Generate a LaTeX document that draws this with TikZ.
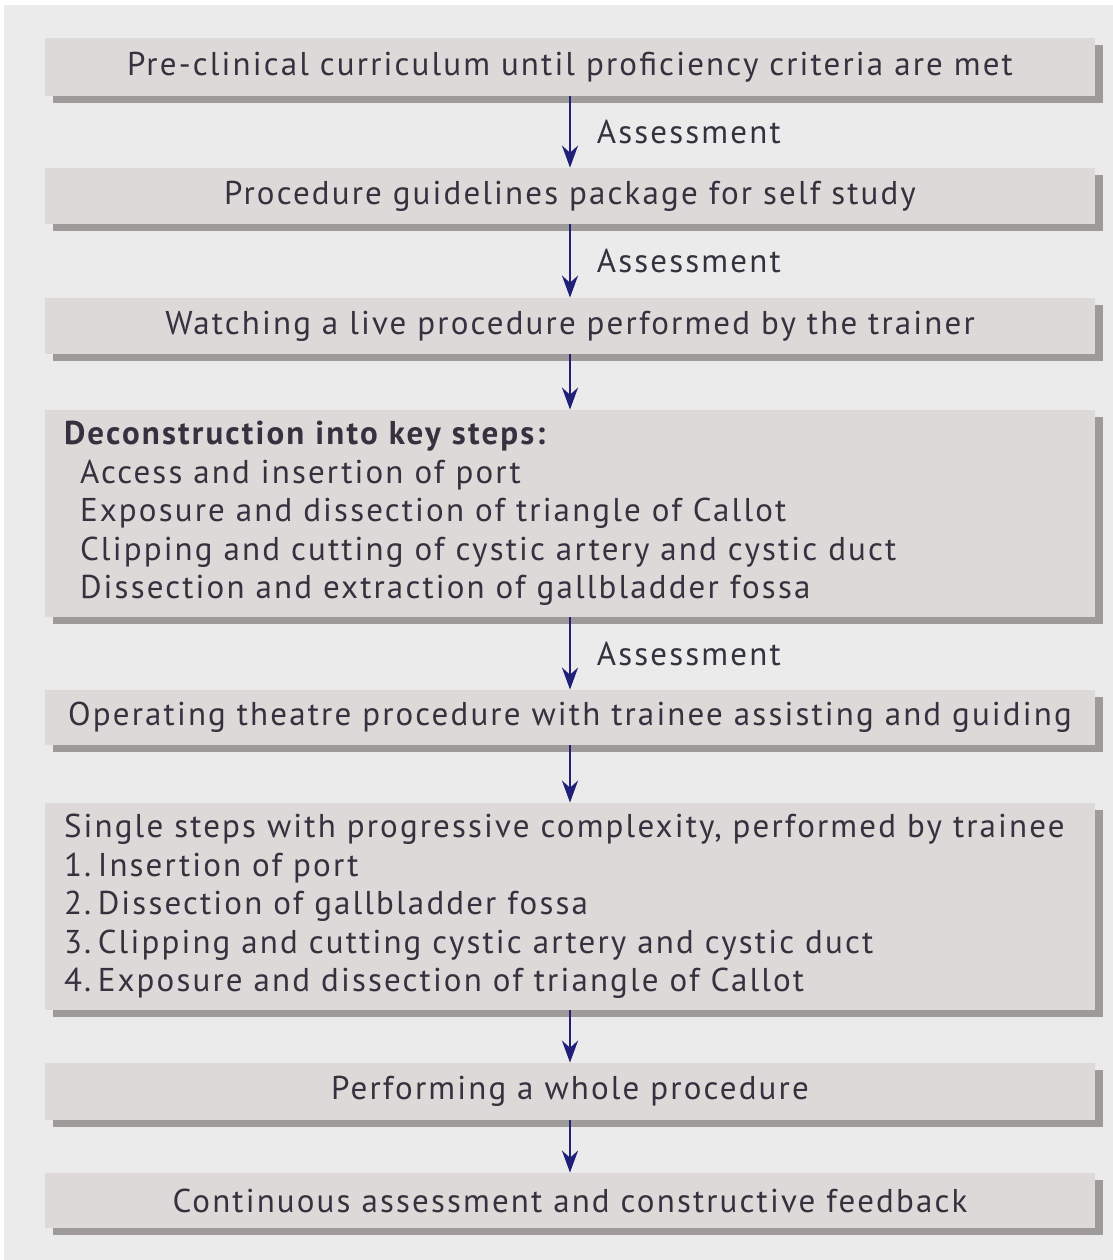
\documentclass[tikz,border=0pt]{standalone}
\usepackage{fontspec}
\setmainfont[LetterSpace=6.5]{PT Sans}
\usetikzlibrary{shadows,arrows.meta}
\definecolor{BoxGray}{RGB}{220,217,216}
\definecolor{ShadowGray}{RGB}{158,154,153}
\definecolor{PageGray}{RGB}{235,235,235}
\definecolor{ArrowNavy}{RGB}{32,32,122}
\definecolor{TextGray}{RGB}{52,50,62}

\begin{document}
\begin{tikzpicture}[x=0.5pt, y=-0.5pt,
		stepbox/.style={fill=BoxGray, minimum width=525pt, inner sep=0pt, text=TextGray,
			font=\fontsize{16.5}{19.25}\selectfont,
			drop shadow={shadow xshift=4pt, shadow yshift=-3.5pt, fill=ShadowGray, opacity=1}},
		listbox/.style={stepbox, text width=506pt, inner xsep=9.5pt, align=left},
		flow/.style={-{Stealth[length=11pt, width=8pt]}, ArrowNavy, line width=1.3pt},
		asmt/.style={anchor=west, xshift=9.5pt, text=TextGray, font=\fontsize{16.5}{18}\selectfont}
		]
		% ===== nen xam =====
		\useasboundingbox (0,0) rectangle (1113,1260);
		\fill[PageGray] (4,5) rectangle (1113,1260);
		
		% ===== cac o =====
		\node[stepbox, minimum height=29pt] (b1) at (570,67) {Pre-clinical curriculum until proficiency criteria are met};
		\node[stepbox, minimum height=28pt] (b2) at (570,196) {Procedure guidelines package for self study};
		\node[stepbox, minimum height=28pt] (b3) at (570,326) {Watching a live procedure performed by the trainer};
		\node[listbox, minimum height=103.5pt] (b4) at (570,513.5) {\textbf{Deconstruction into key steps:}\\
			\hspace*{8pt}Access and insertion of port\\
			\hspace*{8pt}Exposure and dissection of triangle of Callot\\
			\hspace*{8pt}Clipping and cutting of cystic artery and cystic duct\\
			\hspace*{8pt}Dissection and extraction of gallbladder fossa};
		\node[stepbox, minimum height=27.5pt] (b5) at (570,717.5) {Operating theatre procedure with trainee assisting and guiding};
		\node[listbox, minimum height=103.5pt] (b6) at (570,906.5) {Single steps with progressive complexity, performed by trainee\\
			1.\hspace{0.2em}Insertion of port\\
			2.\hspace{0.2em}Dissection of gallbladder fossa\\
			3.\hspace{0.2em}Clipping and cutting cystic artery and cystic duct\\
			4.\hspace{0.2em}Exposure and dissection of triangle of Callot};
		\node[stepbox, minimum height=28.5pt] (b7) at (570,1091.5) {Performing a whole procedure};
		\node[stepbox, minimum height=27.5pt] (b8) at (570,1200.5) {Continuous assessment and constructive feedback};
		
		% ===== mui ten =====
		\draw[flow] (b1) -- node[asmt] (a1) {Assessment} (b2);
		\draw[flow] (b2) -- node[asmt] (a2) {Assessment} (b3);
		\draw[flow] (b3) -- (b4);
		\draw[flow] (b4) -- node[asmt] (a3) {Assessment} (b5);
		\draw[flow] (b5) -- (b6);
		\draw[flow] (b6) -- (b7);
		\draw[flow] (b7) -- (b8);
		
	\end{tikzpicture}
\end{document}
